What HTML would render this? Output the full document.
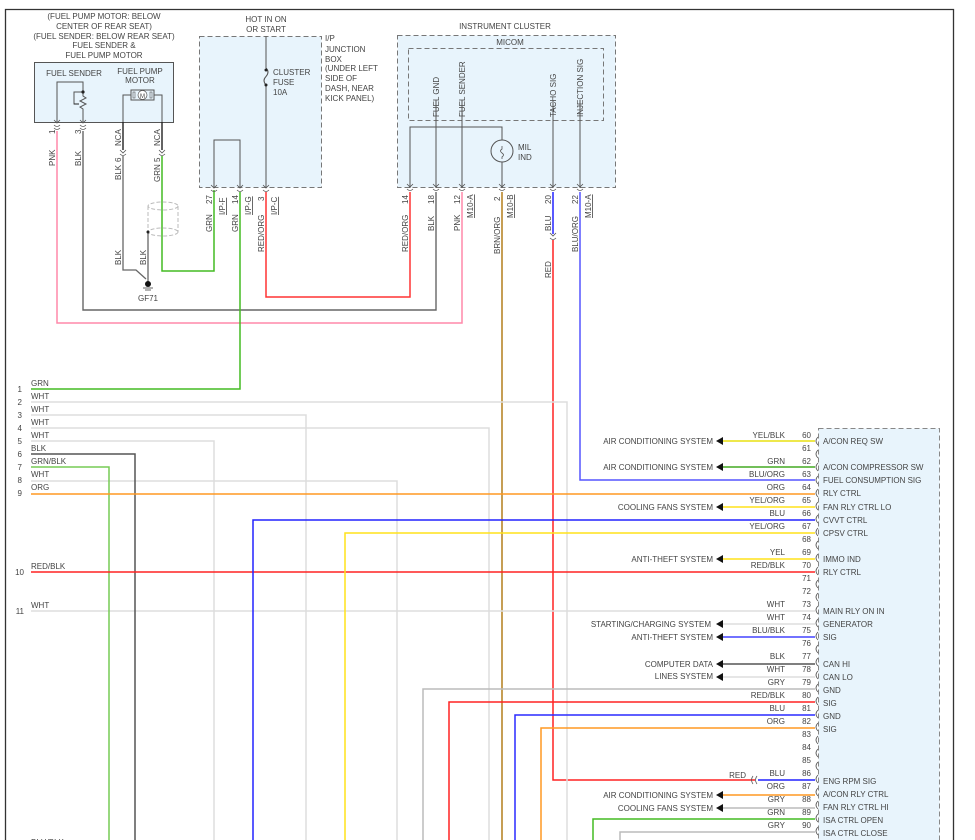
<!DOCTYPE html>
<html><head><meta charset="utf-8"><style>
html,body{margin:0;padding:0;background:#fff;}
svg{display:block;}
text{font-family:"Liberation Sans",sans-serif;font-size:8px;fill:#444;}
.r{text-anchor:end;}
.m{text-anchor:middle;}
</style></head><body>
<svg width="975" height="840" viewBox="0 0 975 840" xmlns="http://www.w3.org/2000/svg">
<!-- frame -->
<path d="M5.5 845 V9.5 H953.5 V845" fill="none" stroke="#333" stroke-width="1.3"/>

<!-- fuel sender box -->
<text class="m" x="104" y="19">(FUEL PUMP MOTOR: BELOW</text>
<text class="m" x="104" y="29">CENTER OF REAR SEAT)</text>
<text class="m" x="104" y="39">(FUEL SENDER: BELOW REAR SEAT)</text>
<text class="m" x="104" y="48">FUEL SENDER &amp;</text>
<text class="m" x="104" y="58">FUEL PUMP MOTOR</text>
<rect x="34.5" y="62.5" width="139" height="60" fill="#e8f4fc" stroke="#555" stroke-width="1"/>
<text class="m" x="74" y="76">FUEL SENDER</text>
<text class="m" x="140" y="74">FUEL PUMP</text>
<text class="m" x="140" y="83">MOTOR</text>
<path d="M57 122 V82 H83 V92" fill="none" stroke="#555" stroke-width="1"/>
<path d="M83 92 H74 V104 H78 M83 92 V96 l3 2 -6 3 6 3 -6 3 3 2 V122" fill="none" stroke="#555" stroke-width="1"/>
<circle cx="83" cy="92" r="1.6" fill="#222"/>
<path d="M74 104 l5 0" stroke="#222" stroke-width="1"/>
<path d="M123 150 V95 H131 M154 95 H162 V150" fill="none" stroke="#555" stroke-width="1"/>
<rect x="131" y="90" width="23" height="10" fill="#e8f4fc" stroke="#555"/>
<rect x="133" y="92" width="2" height="6" fill="none" stroke="#555" stroke-width=".6"/>
<rect x="150" y="92" width="2" height="6" fill="none" stroke="#555" stroke-width=".6"/>
<circle cx="142.5" cy="95" r="4.5" fill="#fff" stroke="#555" stroke-width=".7"/>
<text class="m" x="142.5" y="98" style="font-size:6px">M</text>
<!-- sender pins -->
<path d="M54 125 q3 3 6 0 M54 128 q3 3 6 0 M80 125 q3 3 6 0 M80 128 q3 3 6 0" fill="none" stroke="#555" stroke-width=".8"/>
<path d="M54 120 l3 3 3 -3 M80 120 l3 3 3 -3" fill="none" stroke="#555" stroke-width=".8"/>
<text transform="translate(55,134) rotate(-90)">1</text>
<text transform="translate(81,134) rotate(-90)">3</text>
<text transform="translate(55,166) rotate(-90)">PNK</text>
<text transform="translate(81,166) rotate(-90)">BLK</text>
<!-- motor wires -->
<path d="M123 122 V150" stroke="#222" stroke-width="1.4"/>
<path d="M162 122 V150" stroke="#222" stroke-width="1.4"/>
<text transform="translate(121,146) rotate(-90)">NCA</text>
<text transform="translate(160,146) rotate(-90)">NCA</text>
<path d="M120 150 l3 3 3 -3 M159 150 l3 3 3 -3 M120 154 q3 3 6 0 M159 154 q3 3 6 0" fill="none" stroke="#555" stroke-width=".8"/>
<text transform="translate(121,162) rotate(-90)">6</text>
<text transform="translate(160,162) rotate(-90)">5</text>
<text transform="translate(121,180) rotate(-90)">BLK</text>
<text transform="translate(160,182) rotate(-90)">GRN</text>
<path d="M123 156 V270 H136 L146 279" fill="none" stroke="#666" stroke-width="1.3"/>
<path d="M162 156 V271 H214 V190" fill="none" stroke="#44bb22" stroke-width="1.5"/>
<!-- shield -->
<path d="M148 206 V232 M178 206 V232" stroke="#bbb" stroke-dasharray="4,2" fill="none"/>
<ellipse cx="163" cy="206" rx="15" ry="4" fill="none" stroke="#bbb" stroke-dasharray="4,2"/>
<ellipse cx="163" cy="232" rx="15" ry="4" fill="none" stroke="#bbb" stroke-dasharray="4,2"/>
<path d="M148 232 V283" stroke="#666" stroke-width="1.3"/>
<circle cx="148" cy="232" r="1.5" fill="#222"/>
<text transform="translate(121,265) rotate(-90)">BLK</text>
<text transform="translate(146,265) rotate(-90)">BLK</text>
<circle cx="148" cy="284" r="3" fill="#111"/>
<path d="M143 288 H153 M145 290 H151" stroke="#333" stroke-width=".8"/>
<text class="m" x="148" y="301">GF71</text>

<!-- PNK and BLK long wires -->
<path d="M57 131 V323 H462 V192" fill="none" stroke="#ff88aa" stroke-width="1.5"/>
<path d="M83 131 V310 H436 V192" fill="none" stroke="#666" stroke-width="1.4"/>

<!-- IP junction box -->
<text class="m" x="266" y="22">HOT IN ON</text>
<text class="m" x="266" y="32">OR START</text>
<rect x="199.5" y="36.5" width="122" height="151" fill="#e8f4fc" stroke="#777" stroke-dasharray="5,3"/>
<text x="325" y="41">I/P</text>
<text x="325" y="52">JUNCTION</text>
<text x="325" y="62">BOX</text>
<text x="325" y="71">(UNDER LEFT</text>
<text x="325" y="81">SIDE OF</text>
<text x="325" y="91">DASH, NEAR</text>
<text x="325" y="101">KICK PANEL)</text>
<path d="M266 36 V68 M266 85 V188" stroke="#555" stroke-width="1"/>
<path d="M266 68 q4 4 0 8.5 q-4 4 0 8.5" fill="none" stroke="#555"/>
<circle cx="266" cy="70" r="1.5" fill="#222"/><circle cx="266" cy="85" r="1.5" fill="#222"/>
<text x="273" y="75">CLUSTER</text>
<text x="273" y="85">FUSE</text>
<text x="273" y="95">10A</text>
<path d="M214 188 V140 H240 V188" fill="none" stroke="#555"/>
<path d="M211 185 l3 3 3 -3 M237 185 l3 3 3 -3 M263 185 l3 3 3 -3 M211 190 q3 3 6 0 M237 190 q3 3 6 0 M263 190 q3 3 6 0" fill="none" stroke="#555" stroke-width=".8"/>
<text transform="translate(212,204) rotate(-90)">27</text>
<text transform="translate(225,215) rotate(-90)" text-decoration="underline">I/P-F</text>
<text transform="translate(238,204) rotate(-90)">14</text>
<text transform="translate(251,215) rotate(-90)" text-decoration="underline">I/P-G</text>
<text transform="translate(264,201) rotate(-90)">3</text>
<text transform="translate(277,215) rotate(-90)" text-decoration="underline">I/P-C</text>
<text transform="translate(212,232) rotate(-90)">GRN</text>
<text transform="translate(238,232) rotate(-90)">GRN</text>
<text transform="translate(264,252) rotate(-90)">RED/ORG</text>
<path d="M240 192 V389 H31" fill="none" stroke="#44bb22" stroke-width="1.5"/>
<path d="M266 192 V297 H410 V192" fill="none" stroke="#ff3333" stroke-width="1.5"/>

<!-- instrument cluster -->
<text class="m" x="505" y="29">INSTRUMENT CLUSTER</text>
<rect x="397.5" y="35.5" width="218" height="152" fill="#e8f4fc" stroke="#777" stroke-dasharray="5,3"/>
<text class="m" x="510" y="45">MICOM</text>
<rect x="408.5" y="48.5" width="195" height="72" fill="#e8f4fc" stroke="#777" stroke-dasharray="5,3"/>
<text transform="translate(439,117) rotate(-90)">FUEL GND</text>
<text transform="translate(465,117) rotate(-90)">FUEL SENDER</text>
<text transform="translate(556,117) rotate(-90)">TACHO SIG</text>
<text transform="translate(583,117) rotate(-90)">INJECTION SIG</text>
<path d="M410 188 V127 H502 V188 M436 100 V188 M462 100 V188 M553 100 V188 M580 100 V188" fill="none" stroke="#555"/>
<circle cx="502" cy="151" r="11" fill="#e8f4fc" stroke="#555"/>
<path d="M502 146 v3 q-3 2 0 4 q3 2 0 4 v2" fill="none" stroke="#555" stroke-width=".8"/>
<text x="518" y="150">MIL</text>
<text x="518" y="160">IND</text>
<g fill="none" stroke="#555" stroke-width=".8">
<path d="M407 184 l3 3 3 -3 M433 184 l3 3 3 -3 M459 184 l3 3 3 -3 M499 184 l3 3 3 -3 M550 184 l3 3 3 -3 M577 184 l3 3 3 -3"/>
<path d="M407 189 q3 3 6 0 M433 189 q3 3 6 0 M459 189 q3 3 6 0 M499 189 q3 3 6 0 M550 189 q3 3 6 0 M577 189 q3 3 6 0"/>
</g>
<text transform="translate(408,204) rotate(-90)">14</text>
<text transform="translate(434,204) rotate(-90)">18</text>
<text transform="translate(460,204) rotate(-90)">12</text>
<text transform="translate(473,218) rotate(-90)" text-decoration="underline">M10-A</text>
<text transform="translate(500,201) rotate(-90)">2</text>
<text transform="translate(513,218) rotate(-90)" text-decoration="underline">M10-B</text>
<text transform="translate(551,204) rotate(-90)">20</text>
<text transform="translate(578,204) rotate(-90)">22</text>
<text transform="translate(591,218) rotate(-90)" text-decoration="underline">M10-A</text>
<text transform="translate(408,252) rotate(-90)">RED/ORG</text>
<text transform="translate(434,231) rotate(-90)">BLK</text>
<text transform="translate(460,231) rotate(-90)">PNK</text>
<text transform="translate(500,254) rotate(-90)">BRN/ORG</text>
<text transform="translate(551,231) rotate(-90)">BLU</text>
<text transform="translate(578,252) rotate(-90)">BLU/ORG</text>
<text transform="translate(551,278) rotate(-90)">RED</text>
<path d="M553 192 V234" stroke="#2222ff" stroke-width="1.5"/>
<path d="M550 233 l3 3 3 -3 M550 238 q3 3 6 0" fill="none" stroke="#555" stroke-width=".8"/>
<path d="M553 240 V780 H755" fill="none" stroke="#ff2222" stroke-width="1.5"/>
<path d="M502 192 V845" stroke="#b8862a" stroke-width="1.6"/>
<path d="M580 192 V480 H815" fill="none" stroke="#5555ff" stroke-width="1.5"/>

<!-- left rows -->
<g class="r">
<text class="r" x="22" y="392">1</text><text class="r" x="22" y="405">2</text><text class="r" x="22" y="418">3</text><text class="r" x="22" y="431">4</text><text class="r" x="22" y="444">5</text><text class="r" x="22" y="457">6</text><text class="r" x="22" y="470">7</text><text class="r" x="22" y="483">8</text><text class="r" x="22" y="496">9</text><text class="r" x="24" y="575">10</text><text class="r" x="24" y="614">11</text>
</g>
<text x="31" y="386">GRN</text><text x="31" y="399">WHT</text><text x="31" y="412">WHT</text><text x="31" y="425">WHT</text><text x="31" y="438">WHT</text><text x="31" y="451">BLK</text><text x="31" y="464">GRN/BLK</text><text x="31" y="477">WHT</text><text x="31" y="490">ORG</text><text x="31" y="569">RED/BLK</text><text x="31" y="608">WHT</text>
<text x="31" y="845">BLU/BLK</text>
<g fill="none" stroke-width="1.5">
<path d="M31 402 H567 V845" stroke="#dddddd"/>
<path d="M31 415 H306 V845" stroke="#dddddd"/>
<path d="M31 428 H489 V845" stroke="#dddddd"/>
<path d="M31 441 H214 V845" stroke="#dddddd"/>
<path d="M31 481 H397 V845" stroke="#dddddd"/>
<path d="M31 611 H815" stroke="#dddddd"/>
<path d="M31 454 H135 V845" stroke="#555"/>
<path d="M31 467 H109 V845" stroke="#77cc55"/>
<path d="M31 494 H815" stroke="#ff9922"/>
<path d="M31 572 H815" stroke="#ff2222"/>
<path d="M253 845 V520 H815" stroke="#2222ff"/>
<path d="M345 845 V533 H815" stroke="#ffe21a"/>
<path d="M423 845 V689 H815" stroke="#bbbbbb"/>
<path d="M449 845 V702 H815" stroke="#ff2222"/>
<path d="M515 845 V715 H815" stroke="#2a2aff"/>
<path d="M541 845 V728 H815" stroke="#ff9922"/>
<path d="M593 845 V819 H815" stroke="#44bb22"/>
<path d="M620 845 V832 H815" stroke="#bbbbbb"/>
<path d="M758 780 H815" stroke="#2222ff"/>
</g>
<path d="M757 776 q-3 4 0 8 M753 776 q-3 4 0 8" fill="none" stroke="#555" stroke-width=".8"/>
<text class="r" x="746" y="778">RED</text>

<!-- arrow wires -->
<g fill="none" stroke-width="1.5">
<path d="M722 441 H815" stroke="#e8e010"/>
<path d="M722 467 H815" stroke="#44aa22"/>
<path d="M722 507 H815" stroke="#ffe21a"/>
<path d="M722 559 H815" stroke="#ffe21a"/>
<path d="M722 624 H815" stroke="#dddddd"/>
<path d="M722 637 H815" stroke="#4444ff"/>
<path d="M722 664 H815" stroke="#555"/>
<path d="M722 677 H815" stroke="#dddddd"/>
<path d="M722 795 H815" stroke="#ff9922"/>
<path d="M722 808 H815" stroke="#bbbbbb"/>
</g>
<g fill="#111">
<path d="M716 441 l7 -4 v8z"/><path d="M716 467 l7 -4 v8z"/><path d="M716 507 l7 -4 v8z"/><path d="M716 559 l7 -4 v8z"/><path d="M716 624 l7 -4 v8z"/><path d="M716 637 l7 -4 v8z"/><path d="M716 664 l7 -4 v8z"/><path d="M716 677 l7 -4 v8z"/><path d="M716 795 l7 -4 v8z"/><path d="M716 808 l7 -4 v8z"/>
</g>
<text class="r" x="713" y="444">AIR CONDITIONING SYSTEM</text>
<text class="r" x="713" y="470">AIR CONDITIONING SYSTEM</text>
<text class="r" x="713" y="510">COOLING FANS SYSTEM</text>
<text class="r" x="713" y="562">ANTI-THEFT SYSTEM</text>
<text class="r" x="711" y="627">STARTING/CHARGING SYSTEM</text>
<text class="r" x="713" y="640">ANTI-THEFT SYSTEM</text>
<text class="r" x="713" y="667">COMPUTER DATA</text>
<text class="r" x="713" y="679">LINES SYSTEM</text>
<text class="r" x="713" y="798">AIR CONDITIONING SYSTEM</text>
<text class="r" x="713" y="811">COOLING FANS SYSTEM</text>

<!-- right connector -->
<rect x="818.5" y="428.5" width="121" height="420" fill="#e8f4fc" stroke="#888" stroke-dasharray="5,3"/>
<g fill="none" stroke="#555" stroke-width=".8">
<path d="M818 437 q-4 4 0 8 M818 450 q-4 4 0 8 M818 463 q-4 4 0 8 M818 476 q-4 4 0 8 M818 489 q-4 4 0 8 M818 502 q-4 4 0 8 M818 515 q-4 4 0 8 M818 528 q-4 4 0 8 M818 541 q-4 4 0 8 M818 554 q-4 4 0 8 M818 567 q-4 4 0 8 M818 580 q-4 4 0 8 M818 593 q-4 4 0 8 M818 606 q-4 4 0 8 M818 619 q-4 4 0 8 M818 632 q-4 4 0 8 M818 645 q-4 4 0 8 M818 658 q-4 4 0 8 M818 671 q-4 4 0 8 M818 684 q-4 4 0 8 M818 697 q-4 4 0 8 M818 710 q-4 4 0 8 M818 723 q-4 4 0 8 M818 736 q-4 4 0 8 M818 749 q-4 4 0 8 M818 762 q-4 4 0 8 M818 775 q-4 4 0 8 M818 788 q-4 4 0 8 M818 801 q-4 4 0 8 M818 814 q-4 4 0 8 M818 827 q-4 4 0 8"/>
</g>
<g>
<text class="r" x="811" y="438">60</text><text class="r" x="811" y="451">61</text><text class="r" x="811" y="464">62</text><text class="r" x="811" y="477">63</text><text class="r" x="811" y="490">64</text><text class="r" x="811" y="503">65</text><text class="r" x="811" y="516">66</text><text class="r" x="811" y="529">67</text><text class="r" x="811" y="542">68</text><text class="r" x="811" y="555">69</text><text class="r" x="811" y="568">70</text><text class="r" x="811" y="581">71</text><text class="r" x="811" y="594">72</text><text class="r" x="811" y="607">73</text><text class="r" x="811" y="620">74</text><text class="r" x="811" y="633">75</text><text class="r" x="811" y="646">76</text><text class="r" x="811" y="659">77</text><text class="r" x="811" y="672">78</text><text class="r" x="811" y="685">79</text><text class="r" x="811" y="698">80</text><text class="r" x="811" y="711">81</text><text class="r" x="811" y="724">82</text><text class="r" x="811" y="737">83</text><text class="r" x="811" y="750">84</text><text class="r" x="811" y="763">85</text><text class="r" x="811" y="776">86</text><text class="r" x="811" y="789">87</text><text class="r" x="811" y="802">88</text><text class="r" x="811" y="815">89</text><text class="r" x="811" y="828">90</text>
</g>
<g>
<text class="r" x="785" y="438">YEL/BLK</text><text class="r" x="785" y="464">GRN</text><text class="r" x="785" y="477">BLU/ORG</text><text class="r" x="785" y="490">ORG</text><text class="r" x="785" y="503">YEL/ORG</text><text class="r" x="785" y="516">BLU</text><text class="r" x="785" y="529">YEL/ORG</text><text class="r" x="785" y="555">YEL</text><text class="r" x="785" y="568">RED/BLK</text><text class="r" x="785" y="607">WHT</text><text class="r" x="785" y="620">WHT</text><text class="r" x="785" y="633">BLU/BLK</text><text class="r" x="785" y="659">BLK</text><text class="r" x="785" y="672">WHT</text><text class="r" x="785" y="685">GRY</text><text class="r" x="785" y="698">RED/BLK</text><text class="r" x="785" y="711">BLU</text><text class="r" x="785" y="724">ORG</text><text class="r" x="785" y="776">BLU</text><text class="r" x="785" y="789">ORG</text><text class="r" x="785" y="802">GRY</text><text class="r" x="785" y="815">GRN</text><text class="r" x="785" y="828">GRY</text>
</g>
<g>
<text x="823" y="444">A/CON REQ SW</text><text x="823" y="470">A/CON COMPRESSOR SW</text><text x="823" y="483">FUEL CONSUMPTION SIG</text><text x="823" y="496">RLY CTRL</text><text x="823" y="510">FAN RLY CTRL LO</text><text x="823" y="523">CVVT CTRL</text><text x="823" y="536">CPSV CTRL</text><text x="823" y="562">IMMO IND</text><text x="823" y="575">RLY CTRL</text><text x="823" y="614">MAIN RLY ON IN</text><text x="823" y="627">GENERATOR</text><text x="823" y="640">SIG</text><text x="823" y="667">CAN HI</text><text x="823" y="680">CAN LO</text><text x="823" y="693">GND</text><text x="823" y="706">SIG</text><text x="823" y="719">GND</text><text x="823" y="732">SIG</text><text x="823" y="784">ENG RPM SIG</text><text x="823" y="797">A/CON RLY CTRL</text><text x="823" y="810">FAN RLY CTRL HI</text><text x="823" y="823">ISA CTRL OPEN</text><text x="823" y="836">ISA CTRL CLOSE</text>
</g>
</svg>
</body></html>
